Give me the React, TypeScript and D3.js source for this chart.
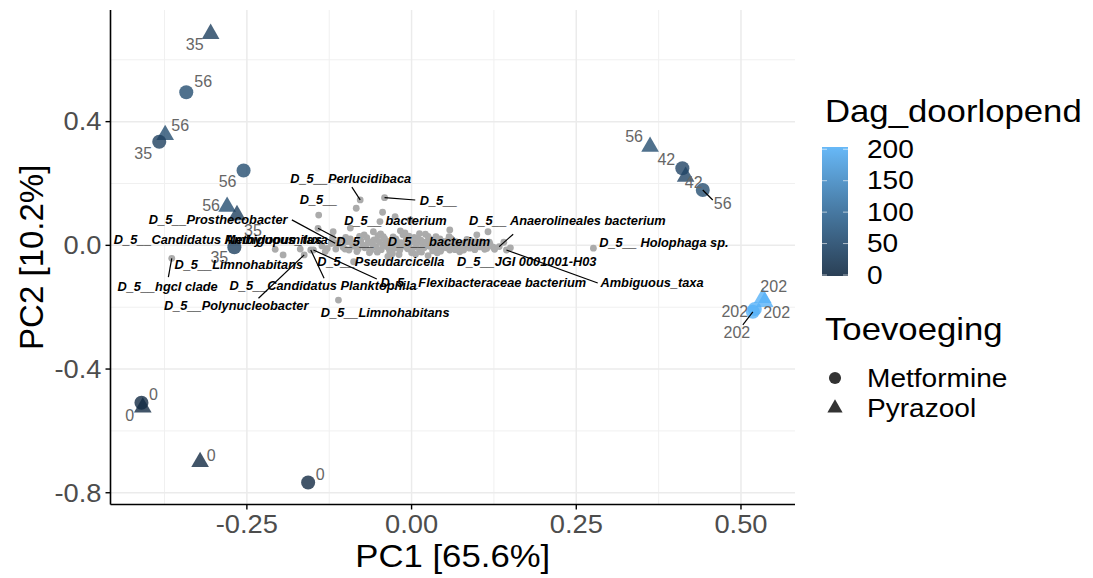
import React from 'react';
import * as d3 from 'd3';

// ---- sample scores (PCA) ----
const sampleDay = [35, 56, 56, 35, 56, 56, 35, 35, 56, 42, 42, 56, 202, 202, 202, 202, 0, 0, 0, 0];
const sampleToevoeging = [
  'Pyrazool', 'Metformine', 'Pyrazool', 'Metformine', 'Metformine', 'Pyrazool', 'Pyrazool', 'Metformine',
  'Pyrazool', 'Metformine', 'Pyrazool', 'Metformine', 'Pyrazool', 'Pyrazool', 'Metformine', 'Metformine',
  'Metformine', 'Pyrazool', 'Pyrazool', 'Metformine',
];
const samplePC1 = [-0.305, -0.342, -0.374, -0.383, -0.255, -0.28, -0.265, -0.269, 0.362, 0.411, 0.416, 0.442,
  0.533, 0.536, 0.521, 0.518, -0.41, -0.408, -0.321, -0.157];
const samplePC2 = [0.684, 0.495, 0.357, 0.335, 0.242, 0.125, 0.098, -0.006, 0.319, 0.249, 0.222, 0.179,
  -0.17, -0.183, -0.206, -0.215, -0.509, -0.524, -0.7, -0.767];

// label placement (repel result, pixels relative to point)
const sampleLabelNudge = [[-16, 11], [17, -11], [15, -9], [-16, 12], [-16, 11], [-16, -1], [16, 15], [-15, 10],
  [-16, -10], [-16, -9], [8, 6], [20, 14], [11, -11], [12, 11], [-20, 2], [-16, 21], [12, -8], [-13, 8], [11, -6], [12, -8]];
const sampleSegEnd: (number[] | null)[] = [null, null, null, null, null, null, null, null,
  null, null, null, [10, 10], null, null, null, [-10, 13], null, null, null, null];

// ---- taxa (loadings) ----
const asvPC1 = [-0.112, -0.104, -0.098, -0.093, -0.089, -0.085, -0.081, -0.077, -0.074, -0.071, -0.068, -0.066,
  -0.062, -0.059, -0.057, -0.054, -0.051, -0.049, -0.046, -0.044, -0.041, -0.038, -0.036, -0.033, -0.031, -0.028,
  -0.026, -0.023, -0.021, -0.018, -0.016, -0.013, -0.011, -0.008, -0.006, -0.003, 0.0, 0.002, 0.004, 0.007, 0.009,
  0.012, 0.014, 0.017, 0.019, 0.022, 0.025, 0.027, 0.03, 0.032, 0.035, 0.038, 0.041, 0.043, 0.046, 0.049, 0.052,
  0.055, 0.058, 0.061, 0.064, 0.067, 0.071, 0.074, 0.077, 0.081, 0.084, 0.088, 0.092, 0.096, 0.1, 0.104, 0.109,
  0.114, 0.119, 0.124, -0.107, -0.095, -0.079, -0.064, -0.047, -0.029, -0.01, 0.006, 0.021, 0.039, 0.057, 0.073,
  0.09, 0.106, 0.126, -0.141, -0.119, -0.109, -0.093, -0.044, -0.025, -0.002, 0.099, 0.116, -0.207, -0.128,
  -0.088, 0.058, -0.12, -0.131, 0.15, 0.14,
  -0.1, -0.091, -0.083, -0.072, -0.069, -0.06, -0.052, -0.043, -0.039, -0.034, -0.024, -0.019, -0.014, -0.004,
  0.001, 0.01, 0.015, 0.023, 0.028, 0.033, 0.037, 0.044, 0.048, 0.053, 0.06, 0.066, 0.069, 0.079, 0.083, 0.094,
  0.098, 0.111, 0.118, -0.115, -0.122, -0.058, -0.017, 0.012, -0.036, 0.025];
const asvPC2 = [0.004, -0.006, 0.012, 0.021, -0.003, 0.006, -0.012, 0.016, 0.001, -0.008, 0.025, 0.009, -0.017,
  0.003, 0.018, -0.006, 0.031, 0.011, -0.014, 0.002, 0.022, -0.004, 0.013, -0.021, 0.006, 0.027, -0.009, 0.015,
  0.001, -0.016, 0.009, 0.034, -0.003, 0.019, -0.011, 0.005, -0.024, 0.012, 0.026, -0.005, 0.008, -0.014, 0.017,
  0.001, -0.008, 0.011, 0.029, -0.003, 0.006, -0.018, 0.014, -0.006, 0.003, 0.021, -0.011, 0.009, -0.002, 0.016,
  -0.015, 0.004, -0.007, 0.012, 0.0, -0.012, 0.007, -0.004, 0.019, -0.009, 0.003, -0.014, 0.006, -0.005, 0.001,
  -0.01, 0.004, -0.006, 0.017, -0.015, 0.029, -0.024, 0.037, -0.027, 0.04, -0.029, 0.036, -0.025, 0.028, -0.021,
  0.015, 0.012, -0.013, 0.098, 0.044, 0.017, 0.056, 0.107, 0.093, 0.082, 0.034, 0.044, -0.013, -0.01, -0.053,
  0.05, 0.024, -0.02, -0.008, 0.01,
  0.026, 0.009, -0.02, 0.034, -0.001, 0.012, -0.022, 0.028, 0.008, -0.012, 0.021, -0.03, 0.002, 0.03, -0.013,
  0.021, -0.022, 0.004, 0.02, -0.01, 0.028, -0.019, 0.013, -0.008, 0.022, -0.014, 0.005, -0.015, 0.01, -0.003,
  0.012, -0.013, 0.01, -0.012, 0.006, 0.044, 0.047, 0.038, -0.036, -0.033];

const taxonLabel = [
  'D_5__Perlucidibaca', 'D_5__', 'D_5__', 'D_5__ bacterium', 'D_5__ Anaerolineales bacterium',
  'D_5__Prosthecobacter', 'D_5__Candidatus Methylopumilus', 'Ambiguous_taxa', 'D_5__', 'D_5__ bacterium',
  'D_5__Limnohabitans', 'D_5__Pseudarcicella', 'D_5__JGI 0001001-H03', 'D_5__ Holophaga sp.', 'D_5__hgcl clade',
  'D_5__Candidatus Planktophila', 'D_5__Polynucleobacter', 'D_5__Flexibacteraceae bacterium', 'Ambiguous_taxa',
  'D_5__Limnohabitans',
];
const taxonPC1 = [-0.078, -0.041, -0.084, -0.048, 0.133, -0.116, -0.136, -0.169, -0.142, 0.028, -0.195, -0.101,
  0.116, 0.276, -0.364, -0.153, -0.163, -0.149, 0.144, -0.111];
const taxonPC2 = [0.147, 0.154, 0.12, 0.077, -0.004, 0.007, -0.002, -0.012, 0.055, 0.008, -0.031, -0.012, -0.002,
  -0.009, -0.042, -0.015, -0.031, -0.015, -0.015, -0.177];

const taxonLabelNudge = [[-9.5, -21], [54, 2.3], [-37.6, -8.3], [15.5, -1], [68.2, -26], [-117, -24], [-104, -6.7],
  [-24, -9.7], [37.2, 13.4], [9, -1.3], [-44.3, 10], [35.8, 12.7], [38.7, 15.7], [70.5, -5.6], [-4.2, 27.7],
  [12.3, 36], [-68, 51], [170, 32.7], [145.6, 32.7], [46.7, 12.7]];
const taxonSegEnd: (number[] | null)[] = [[-8.3, -12.7], [30.7, 2.3], null, null, [14, -12.4], [-43.3, -23.3], null,
  null, [18.4, 9.7], null, null, null, null, null, [-3.4, 18.7], [13.3, 28.3], [-45.7, 43.3], [63.4, 29],
  [91.3, 33], null];

// ---- axes / legend ----
const xTicks = [-0.25, 0, 0.25, 0.5];
const xMinor = [-0.375, -0.125, 0.125, 0.375];
const yTicks = [-0.8, -0.4, 0, 0.4];
const yMinor = [-0.6, -0.2, 0.2, 0.6];
const dayTicks = [0, 50, 100, 150, 200];
const shapes = ['Metformine', 'Pyrazool'];

const FONT = '"Liberation Sans", Arial, sans-serif';
const W = 1093;
const H = 578;

const Txt = ({ x, y, sx = 1, children, ...rest }: any) => (
  <text transform={`translate(${x},${y}) scale(${sx},1)`} {...rest}>{children}</text>
);

export default function App() {
  const x = d3.scaleLinear().domain([-0.457, 0.582]).range([110.5, 795]);
  const y = d3.scaleLinear().domain([-0.838, 0.761]).range([504.5, 10]);
  const colour = d3.scaleLinear<string>().domain([0, 202]).range(['#132B43', '#56B1F7'])
    .interpolate(d3.interpolateLab);
  const barY = d3.scaleLinear().domain([0, 202]).range([275, 148]);

  const circle = d3.symbol().type(d3.symbolCircle).size(155)() as string;
  const tri = d3.symbol().type(d3.symbolTriangle).size(135)() as string;
  const circleKey = d3.symbol().type(d3.symbolCircle).size(115)() as string;
  const triKey = d3.symbol().type(d3.symbolTriangle).size(100)() as string;

  const fx = (v: number) => d3.format('.2f')(v).replace('\u2212', '-');
  const fy = (v: number) => d3.format('.1f')(v).replace('\u2212', '-');

  const gradStops = d3.range(0, 1.0001, 0.1);
  const [x0, x1] = x.range();
  const [y0, y1] = y.range();
  const alpha = 0.8;

  return (
    <div style={{ position: 'absolute', left: 0, top: 0 }}>
      <svg width={W} height={H} style={{ display: 'block', background: '#fff', fontFamily: FONT }}>
        <defs>
          <linearGradient id="dagGrad" x1="0" y1="1" x2="0" y2="0">
            {gradStops.map((t) => (
              <stop key={t} offset={t} stopColor={colour(t * 202)} stopOpacity={0.9} />
            ))}
          </linearGradient>
        </defs>

        {/* grid */}
        {xMinor.map((v) => <line key={'xm' + v} x1={x(v)} x2={x(v)} y1={y1} y2={y0} stroke="#F0F0F0" strokeWidth={1} />)}
        {yMinor.map((v) => <line key={'ym' + v} x1={x0} x2={x1} y1={y(v)} y2={y(v)} stroke="#F0F0F0" strokeWidth={1} />)}
        {xTicks.map((v) => <line key={'xg' + v} x1={x(v)} x2={x(v)} y1={y1} y2={y0} stroke="#EBEBEB" strokeWidth={1.5} />)}
        {yTicks.map((v) => <line key={'yg' + v} x1={x0} x2={x1} y1={y(v)} y2={y(v)} stroke="#EBEBEB" strokeWidth={1.5} />)}

        {/* samples */}
        {samplePC1.map((v, i) => (
          <path key={'s' + i} d={sampleToevoeging[i] === 'Metformine' ? circle : tri}
            transform={`translate(${x(v)},${y(samplePC2[i])})`} fill={colour(sampleDay[i])} fillOpacity={alpha} />
        ))}
        {samplePC1.map((v, i) => {
          const px = x(v), py = y(samplePC2[i]);
          const seg = sampleSegEnd[i];
          return (
            <g key={'sl' + i}>
              {seg && <line x1={px} y1={py} x2={px + seg[0]} y2={py + seg[1]} stroke="#000" strokeWidth={1.2} />}
              <text x={px + sampleLabelNudge[i][0]} y={py + sampleLabelNudge[i][1]} textAnchor="middle"
                dominantBaseline="central" fontSize={16} fill="#666">{sampleDay[i]}</text>
            </g>
          );
        })}

        {/* taxa */}
        {asvPC1.map((v, i) => (
          <circle key={'a' + i} cx={x(v)} cy={y(asvPC2[i])} r={3.4} fill="#ABABAB" />
        ))}
        {taxonPC1.map((v, i) => (
          <circle key={'t' + i} cx={x(v)} cy={y(taxonPC2[i])} r={3.4} fill="#ABABAB" />
        ))}
        {taxonPC1.map((v, i) => {
          const px = x(v), py = y(taxonPC2[i]);
          const seg = taxonSegEnd[i];
          return seg ? (
            <line key={'ts' + i} x1={px} y1={py} x2={px + seg[0]} y2={py + seg[1]} stroke="#000" strokeWidth={1.2} />
          ) : null;
        })}
        {taxonPC1.map((v, i) => (
          <text key={'tl' + i} x={x(v) + taxonLabelNudge[i][0]} y={y(taxonPC2[i]) + taxonLabelNudge[i][1]}
            textAnchor="middle" dominantBaseline="central" fontSize={12.8} fontWeight="bold"
            fontStyle="italic" fill="#000">{taxonLabel[i]}</text>
        ))}

        {/* axes */}
        <line x1={x0} x2={x0} y1={y1} y2={y0} stroke="#000" strokeWidth={1.6} />
        <line x1={x0} x2={x1} y1={y0} y2={y0} stroke="#000" strokeWidth={1.6} />
        {yTicks.map((v) => (
          <g key={'yt' + v}>
            <line x1={x0 - 5} x2={x0} y1={y(v)} y2={y(v)} stroke="#000" strokeWidth={1.4} />
            <Txt x={x0 - 9} y={y(v)} sx={1.05} textAnchor="end" dominantBaseline="central" fontSize={26}
              fill="#4D4D4D">{fy(v)}</Txt>
          </g>
        ))}
        {xTicks.map((v) => (
          <g key={'xt' + v}>
            <line x1={x(v)} x2={x(v)} y1={y0} y2={y0 + 5} stroke="#000" strokeWidth={1.4} />
            <Txt x={x(v)} y={533} sx={1.05} textAnchor="middle" fontSize={26} fill="#4D4D4D">{fx(v)}</Txt>
          </g>
        ))}
        <Txt x={(x0 + x1) / 2} y={567} sx={1.12} textAnchor="middle" fontSize={31} fill="#000">PC1 [65.6%]</Txt>
        <text transform={`translate(43,${(y0 + y1) / 2}) rotate(-90)`} textAnchor="middle" fontSize={33}
          fill="#000">PC2 [10.2%]</text>

        {/* legend: colour */}
        <Txt x={825} y={122} sx={1.12} fontSize={31} fill="#000">Dag_doorlopend</Txt>
        <rect x={822} y={147} width={26} height={129} fill="url(#dagGrad)" />
        {dayTicks.map((v) => (
          <g key={'dt' + v}>
            <line x1={822} x2={827} y1={barY(v)} y2={barY(v)} stroke="#fff" strokeOpacity={0.6} strokeWidth={1} />
            <line x1={843} x2={848} y1={barY(v)} y2={barY(v)} stroke="#fff" strokeOpacity={0.6} strokeWidth={1} />
            <Txt x={867} y={barY(v)} sx={1.08} dominantBaseline="central" fontSize={26} fill="#000">{v}</Txt>
          </g>
        ))}

        {/* legend: shape */}
        <Txt x={825} y={340} sx={1.12} fontSize={31} fill="#000">Toevoeging</Txt>
        {shapes.map((s, i) => (
          <g key={s}>
            <path d={s === 'Metformine' ? circleKey : triKey} transform={`translate(835,${378 + i * 30})`}
              fill="#000" fillOpacity={alpha} />
            <Txt x={867} y={378 + i * 30} sx={1.08} dominantBaseline="central" fontSize={26} fill="#000">{s}</Txt>
          </g>
        ))}
      </svg>
    </div>
  );
}
